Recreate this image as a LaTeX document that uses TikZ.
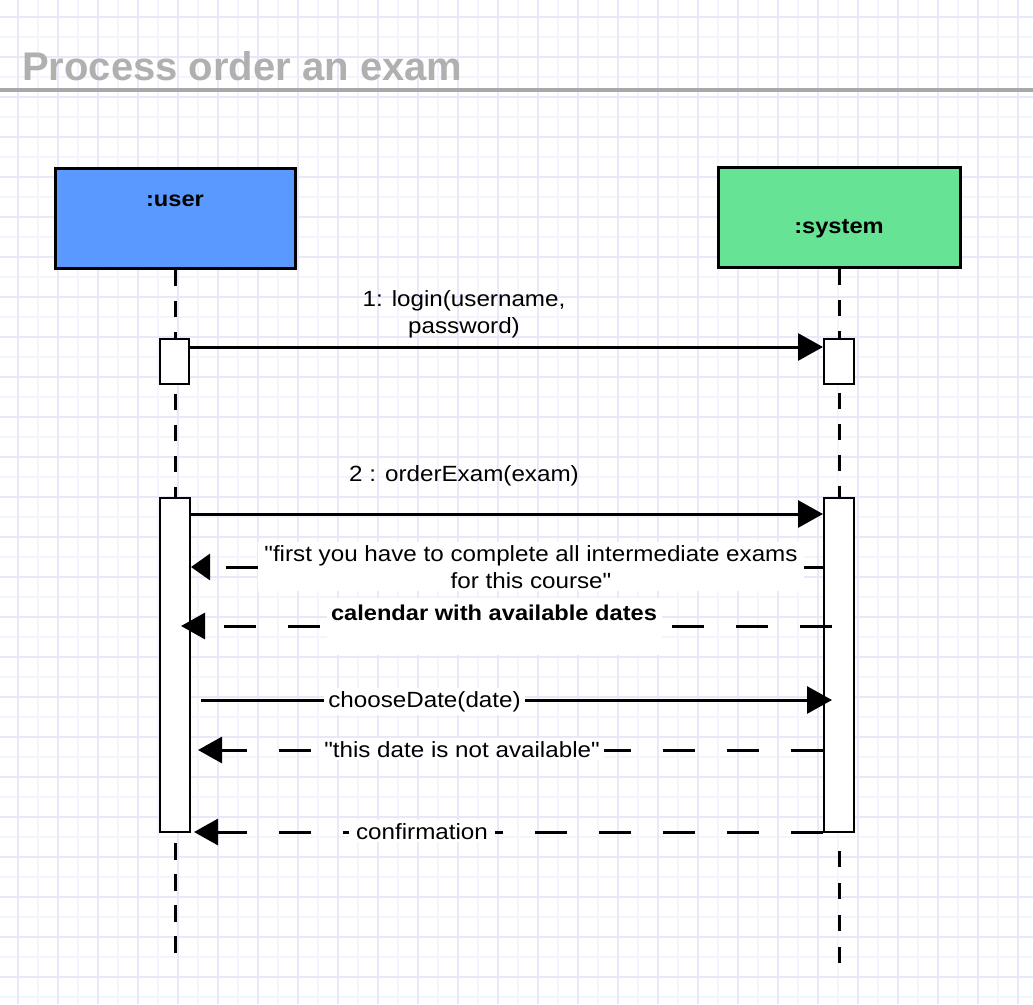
\documentclass[tikz,border=0pt]{standalone}
\usepackage{fontspec}
\setmainfont{Liberation Sans}
\newfontfamily\lblfont[FakeStretch=1.1]{Liberation Sans}
\usetikzlibrary{arrows.meta,backgrounds}
\definecolor{gridmajor}{RGB}{232,232,251}
\definecolor{gridminor}{RGB}{244,244,254}
\definecolor{titlegray}{RGB}{176,176,176}
\definecolor{ruleg}{RGB}{168,168,168}
\definecolor{userblue}{RGB}{90,153,255}
\definecolor{sysgreen}{RGB}{102,227,148}
\begin{document}
\begin{tikzpicture}[x=1pt,y=-1pt,
  lbl/.style={font=\lblfont\fontsize{22}{27}\selectfont, inner sep=0pt, align=center},
  lblbg/.style={lbl, fill=white, inner xsep=5pt, inner ysep=3pt},
  headlbl/.style={font=\lblfont\bfseries\fontsize{21.5}{27}\selectfont, inner sep=0pt},
  actor/.style={draw=black, line width=3pt, minimum height=100pt, inner sep=0pt},
  actbox/.style={draw=black, fill=white, line width=2pt, inner sep=0pt},
  lifeline/.style={line width=3pt, dash pattern=on 16pt off 15pt},
  call/.style={line width=3pt, -{Triangle[length=25pt,width=27pt]}},
  reply/.style={line width=3pt, dash pattern=on 32pt off 32pt, -{Triangle[length=24pt,width=26pt]}},
  gmaj/.style={draw=gridmajor, line width=1.3pt},
  gmin/.style={draw=gridminor, line width=1.1pt},
]
\useasboundingbox (0,0) rectangle (1033,1004);
% title
\node[anchor=base west, font=\bfseries\fontsize{40}{45}\selectfont, text=titlegray, inner sep=0pt] (title) at (22,80) {Process order an exam};
% actors
\node[actor, fill=userblue, minimum width=240pt] (user) at (175,218) {};
\node[actor, fill=sysgreen, minimum width=242pt] (system) at (839,217) {};
\node[headlbl, anchor=base] (userlbl) at (175,206) {:user};
\node[headlbl, anchor=base] (syslbl) at (839,233) {:system};
% activations
\node[actbox, minimum width=29pt, minimum height=45pt] (ua1) at (174.5,361.5) {};
\node[actbox, minimum width=30pt, minimum height=45pt] (sa1) at (839,361.5) {};
\node[actbox, minimum width=30pt, minimum height=334pt] (ua2) at (175,665) {};
\node[actbox, minimum width=30pt, minimum height=334pt] (sa2) at (839,665) {};
% lifeline ends
\coordinate (uend) at (175,956);
\coordinate (send) at (839,965);
\begin{pgfonlayer}{background}
  % grid
  \foreach \x in {38,78,...,1038} \draw[gmin] (\x,0) -- (\x,1004);
  \foreach \y in {37,77,...,1004} \draw[gmin] (0,\y) -- (1033,\y);
  \foreach \x in {18,58,...,1033} \draw[gmaj] (\x,0) -- (\x,1004);
  \foreach \y in {17,57,...,1004} \draw[gmaj] (0,\y) -- (1033,\y);
  \draw[ruleg, line width=4pt] (0,90) -- (1033,90);
  % lifelines
  \draw[lifeline] (user.south) -- (ua2.north -| user.south);
  \draw[lifeline] (system.south) -- (sa2.north);
  \draw[lifeline, dash pattern=on 17pt off 14pt, dash phase=21pt] (ua2.south -| uend) -- (uend);
  \draw[lifeline, dash pattern=on 16pt off 16pt, dash phase=16pt] ([yshift=-2pt]sa2.south) -- (send);
\end{pgfonlayer}
% message levels
\coordinate (y1) at (0,347);
\coordinate (y2) at (0,514);
\coordinate (y3) at (0,567);
\coordinate (y4) at (0,626);
\coordinate (y5) at (0,700);
\coordinate (y6) at (0,750);
\coordinate (y7) at (0,832);
% messages
\draw[call] (ua1.east |- y1) -- (sa1.west |- y1);
\draw[call] (ua2.east |- y2) -- (sa2.west |- y2);
\draw[reply, dash phase=11pt, -{Triangle[length=19pt,width=26pt]}] (sa2.west |- y3) -- (ua2.east |- y3);
\draw[reply] ([xshift=9pt]sa2.west |- y4) -- ([xshift=-10pt]ua2.east |- y4);
\draw[call] ([xshift=10pt]ua2.east |- y5) -- ([xshift=9pt]sa2.west |- y5);
\draw[reply] (sa2.west |- y6) -- ([xshift=7pt]ua2.east |- y6);
\draw[reply] (sa2.west |- y7) -- ([xshift=3pt]ua2.east |- y7);
% labels
\node[lbl, anchor=north] (l1) at (464,290) {1: login(username,\\password)};
\node[lbl, anchor=base] (l2) at (464,481) {2 : orderExam(exam)};
\node[lblbg, anchor=north, inner xsep=6pt] (l3) at (531,542) {"first you have to complete all intermediate exams\\for this course"};
\node[headlbl, anchor=north, fill=white, text height=22pt, text depth=35pt, inner ysep=0pt, inner xsep=4.5pt] (l4) at (494,598) {calendar with available dates};
\node[lblbg, anchor=base, inner xsep=4pt] (l5) at (424.5,707) {chooseDate(date)};
\node[lblbg, anchor=base, inner xsep=4pt] (l6) at (462,757) {"this date is not available"};
\node[lblbg, anchor=base, inner xsep=7pt] (l7) at (422,839) {confirmation};
\end{tikzpicture}
\end{document}
